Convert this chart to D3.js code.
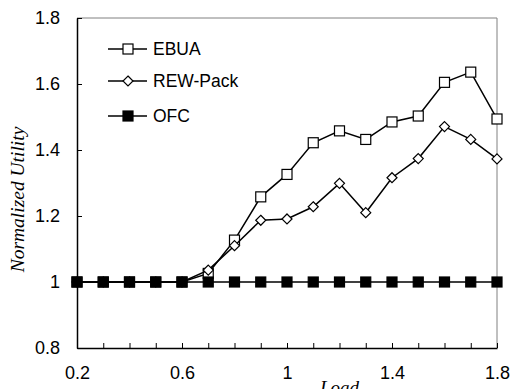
<!DOCTYPE html>
<html>
<head>
<meta charset="utf-8">
<script src="https://cdn.jsdelivr.net/npm/d3@7"></script>
<style>
  body { margin: 0; background: #fff; }
  svg { display: block; font-family: "Liberation Sans", Arial, sans-serif; }
</style>
</head>
<body>
<svg id="chart" width="512" height="389"></svg>
<script>
// ===== DADOS =====
const loads = [0.2, 0.3, 0.4, 0.5, 0.6, 0.7, 0.8, 0.9, 1.0, 1.1, 1.2, 1.3, 1.4, 1.5, 1.6, 1.7, 1.8];
const ebua = [1, 1, 1, 1, 1, 1.026, 1.127, 1.258, 1.326, 1.422, 1.458, 1.432, 1.485, 1.503, 1.605, 1.636, 1.494];
const rewPack = [1, 1, 1, 1, 1, 1.036, 1.11, 1.187, 1.191, 1.228, 1.299, 1.21, 1.316, 1.374, 1.471, 1.432, 1.373];
const ofc = [1, 1, 1, 1, 1, 1, 1, 1, 1, 1, 1, 1, 1, 1, 1, 1, 1];
const xTicks = [0.2, 0.6, 1, 1.4, 1.8];
const yTicks = [0.8, 1, 1.2, 1.4, 1.6, 1.8];
const seriesNames = ["EBUA", "REW-Pack", "OFC"];

// ===== CONFIGURAÇÃO =====
const margin = { top: 18, right: 15, bottom: 41, left: 77 };
const width = 512 - margin.left - margin.right;
const height = 389 - margin.top - margin.bottom;

const svg = d3.select("#chart");
const g = svg.append("g").attr("transform", `translate(${margin.left},${margin.top})`);

const x = d3.scaleLinear().domain([0.2, 1.8]).range([0, width]);
const y = d3.scaleLinear().domain([0.8, 1.8]).range([height, 0]);

// moldura: topo e direita cinza
g.append("line").attr("x1", 0).attr("x2", width).attr("y1", 0).attr("y2", 0)
  .attr("stroke", "#808080").attr("stroke-width", 1);
g.append("line").attr("x1", width).attr("x2", width).attr("y1", 0).attr("y2", height)
  .attr("stroke", "#808080").attr("stroke-width", 1);

// eixo x (ticks para dentro)
const xAxis = g.append("g")
  .attr("transform", `translate(0,${height})`)
  .call(d3.axisBottom(x).tickValues(loads).tickSizeInner(-5).tickSizeOuter(0)
    .tickFormat(d => xTicks.some(t => Math.abs(t - d) < 1e-9) ? d3.format("")(+d.toFixed(1)) : ""));
xAxis.select(".domain").attr("stroke", "#000").attr("stroke-width", 1.5);
xAxis.selectAll(".tick line").attr("stroke", "#000");
xAxis.selectAll(".tick text").attr("font-size", 18).attr("fill", "#000").attr("dy", "1.55em");

// eixo y
const yAxis = g.append("g")
  .call(d3.axisLeft(y).tickValues(yTicks).tickSizeInner(-5).tickSizeOuter(0)
    .tickFormat(d => d3.format("")(+d.toFixed(1))));
yAxis.select(".domain").attr("stroke", "#000").attr("stroke-width", 1.5);
yAxis.selectAll(".tick line").attr("stroke", "#000");
yAxis.selectAll(".tick text").attr("font-size", 18).attr("fill", "#000").attr("x", -17);

// títulos dos eixos
svg.append("text")
  .attr("x", margin.left + x(1.2) - 0)
  .attr("y", 394)
  .attr("text-anchor", "middle")
  .attr("font-family", "'Liberation Serif', 'Times New Roman', serif")
  .attr("font-style", "italic")
  .attr("font-size", 19)
  .text("Load");

svg.append("text")
  .attr("transform", `translate(24,${margin.top + y(1.25)}) rotate(-90)`)
  .attr("text-anchor", "middle")
  .attr("font-family", "'Liberation Serif', 'Times New Roman', serif")
  .attr("font-style", "italic")
  .attr("font-size", 19.5)
  .text("Normalized Utility");

// ===== SÉRIES =====
const line = d3.line().x((d, i) => x(loads[i])).y(d => y(d));
const allSeries = [
  { name: "EBUA", values: ebua, marker: "square", fill: "#fff" },
  { name: "REW-Pack", values: rewPack, marker: "diamond", fill: "#fff" },
  { name: "OFC", values: ofc, marker: "square", fill: "#000" }
];

function drawMarker(sel, kind, fill) {
  if (kind === "square") {
    sel.append("rect").attr("x", -5).attr("y", -5).attr("width", 10).attr("height", 10)
      .attr("fill", fill).attr("stroke", "#000").attr("stroke-width", 1.2);
  } else {
    sel.append("path").attr("d", "M0,-5L5,0L0,5L-5,0Z")
      .attr("fill", fill).attr("stroke", "#000").attr("stroke-width", 1.2);
  }
}

allSeries.forEach(s => {
  g.append("path").datum(s.values)
    .attr("d", line).attr("fill", "none").attr("stroke", "#000").attr("stroke-width", 1.5);
  g.selectAll(null).data(s.values).enter().append("g")
    .attr("transform", (d, i) => `translate(${x(loads[i])},${y(d)})`)
    .each(function () { drawMarker(d3.select(this), s.marker, s.fill); });
});

// ===== LEGENDA =====
const legendY = [49, 81, 116];
allSeries.forEach((s, i) => {
  const lg = svg.append("g").attr("transform", `translate(108,${legendY[i]})`);
  lg.append("line").attr("x1", 0).attr("x2", 39).attr("y1", 0).attr("y2", 0)
    .attr("stroke", "#000").attr("stroke-width", 1.5);
  const m = lg.append("g").attr("transform", "translate(20,0)");
  drawMarker(m, s.marker, s.fill);
  lg.append("text").attr("x", 45).attr("y", 0).attr("dy", "0.36em")
    .attr("font-size", 17.5).text(seriesNames[i]);
});
</script>
</body>
</html>
